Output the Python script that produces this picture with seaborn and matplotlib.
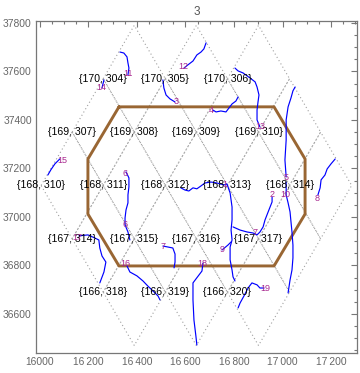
import pandas as pd
import matplotlib
matplotlib.use("Agg")
import matplotlib.pyplot as plt
import seaborn as sns
from matplotlib.ticker import FixedLocator, FixedFormatter, MultipleLocator

# cell labels {row, col}; text sits on the left corner of each rhombus cell
cell_rows = [170, 170, 170, 169, 169, 169, 169, 168, 168, 168, 168, 168,
             167, 167, 167, 167, 166, 166, 166]
cell_cols = [304, 305, 306, 307, 308, 309, 310, 310, 311, 312, 313, 314,
             314, 315, 316, 317, 318, 319, 320]
cell_x = [16261, 16517, 16773, 16133, 16389, 16645, 16901,
          16005, 16261, 16517, 16773, 17029,
          16133, 16389, 16645, 16901, 16261, 16517, 16773]
row_y = {170: 37570, 169: 37350, 168: 37130, 167: 36910, 166: 36690}
half_w, half_h = 128, 220

# brown outline
hex_x = [16326, 16965, 17093, 17093, 16965, 16326, 16198, 16198, 16326]
hex_y = [37454, 37454, 37239, 37012, 36798, 36798, 37012, 37239, 37454]

# blue tracks
trk14_x = [16264, 16256]
trk14_y = [37565, 37532]
trk11_x = [16330, 16346, 16359, 16363, 16367, 16363]
trk11_y = [37680, 37676, 37660, 37635, 37614, 37586]
trk3_x = [16507, 16511, 16520, 16536, 16557]
trk3_y = [37565, 37532, 37503, 37487, 37474]
trk12_x = [16685, 16676, 16664, 16647, 16631, 16610, 16594]
trk12_y = [37718, 37693, 37680, 37668, 37643, 37627, 37614]
trk13_x = [16804, 16817, 16837, 16866, 16887, 16895, 16903, 16899, 16895, 16895, 16907]
trk13_y = [37614, 37602, 37594, 37573, 37557, 37536, 37503, 37474, 37441, 37400, 37371]
trk5_x = [17052, 17043, 17035, 17023, 17015, 17015, 17010, 17015]
trk5_y = [37536, 37520, 37491, 37454, 37400, 37317, 37235, 37165]
trk10_x = [17015, 17015, 17023, 17031, 17035, 17039, 17043, 17043, 17039, 17031, 17023]
trk10_y = [37144, 37091, 37058, 37021, 36979, 36938, 36884, 36831, 36781, 36740, 36687]
trk4_x = [16817, 16808, 16792, 16779, 16767, 16746, 16726, 16713]
trk4_y = [37495, 37478, 37466, 37449, 37433, 37437, 37433, 37441]
trk15_x = [16033, 16045, 16062, 16082]
trk15_y = [37173, 37194, 37219, 37239]
trk6_x = [16355, 16367, 16367, 16363, 16363, 16355, 16351, 16351, 16363, 16371]
trk6_y = [37186, 37161, 37124, 37091, 37058, 37029, 36996, 36967, 36938, 36905]
trk8_x = [17217, 17200, 17184, 17175, 17159, 17155, 17146]
trk8_y = [37239, 37219, 37198, 37173, 37153, 37120, 37091]
trk2_x = [16957, 16957, 16944, 16928, 16920, 16907, 16895, 16878, 16854, 16825, 16796]
trk2_y = [37082, 37062, 37029, 36988, 36959, 36938, 36926, 36934, 36938, 36946, 36959]
trk1_x = [16581, 16598, 16614, 16631, 16647, 16664, 16680, 16705, 16730, 16759, 16771,
          16784, 16792, 16792, 16788, 16792, 16784, 16784, 16792, 16796, 16804]
trk1_y = [37120, 37111, 37107, 37120, 37116, 37128, 37140, 37144, 37140, 37132, 37136,
          37099, 37041, 36988, 36946, 36905, 36876, 36823, 36781, 36753, 36736]
trk9_x = [16751, 16775, 16788]
trk9_y = [36864, 36884, 36897]
trk7_x = [16507, 16528, 16548, 16557, 16557, 16553]
trk7_y = [36880, 36876, 36872, 36847, 36814, 36790]
trk16_x = [16359, 16371, 16400, 16425, 16445, 16466, 16487, 16495]
trk16_y = [36798, 36773, 36757, 36736, 36715, 36695, 36674, 36658]
trk17_x = [16161, 16198, 16227, 16243, 16247, 16256, 16272, 16264, 16247]
trk17_y = [36922, 36926, 36913, 36905, 36872, 36839, 36814, 36773, 36728]
trk18_x = [16672, 16668, 16643, 16631, 16631, 16635, 16643, 16647]
trk18_y = [36810, 36777, 36744, 36728, 36658, 36575, 36509, 36472]
trk19_x = [16817, 16825, 16841, 16858, 16874, 16895, 16907, 16924]
trk19_y = [36625, 36645, 36674, 36707, 36728, 36720, 36707, 36707]

# magenta numbers
num_text = ["14", "11", "3", "12", "4", "13", "15", "6", "6", "1", "2", "5", "10",
            "8", "17", "7", "7", "16", "18", "9", "19"]
num_x = [16252, 16363, 16561, 16590, 16705, 16907, 16091, 16351, 16351, 16763, 16957,
         17015, 17010, 17142, 16153, 16507, 16887, 16351, 16668, 16751, 16928]
num_y = [37532, 37590, 37474, 37619, 37437, 37371, 37231, 37181, 36967, 37132, 37091,
         37161, 37091, 37078, 36917, 36880, 36934, 36810, 36810, 36864, 36707]

x_ticks = [16000, 16200, 16400, 16600, 16800, 17000, 17200]
x_labels = ["16000", "16\u2009200", "16\u2009400", "16\u2009600", "16\u2009800",
            "17\u2009000", "17\u2009200"]
y_ticks = [36600, 36800, 37000, 37200, 37400, 37600, 37800]
y_labels = ["36600", "36800", "37000", "37200", "37400", "37600", "37800"]

sns.set_theme(style="white")
plt.rcParams['font.family'] = ['Liberation Sans', 'DejaVu Sans']

# build tables
grid_rows = []
for i, (r, x0) in enumerate(zip(cell_rows, cell_x)):
    y0 = row_y[r]
    for px, py in [(x0, y0), (x0 + half_w, y0 + half_h), (x0 + 2 * half_w, y0),
                   (x0 + half_w, y0 - half_h), (x0, y0)]:
        grid_rows.append({"cell": i, "x": px, "y": py})
grid_df = pd.DataFrame(grid_rows)

tracks = [(trk14_x, trk14_y), (trk11_x, trk11_y), (trk3_x, trk3_y), (trk12_x, trk12_y),
          (trk13_x, trk13_y), (trk5_x, trk5_y), (trk10_x, trk10_y), (trk4_x, trk4_y),
          (trk15_x, trk15_y), (trk6_x, trk6_y), (trk8_x, trk8_y), (trk2_x, trk2_y),
          (trk1_x, trk1_y), (trk9_x, trk9_y), (trk7_x, trk7_y), (trk16_x, trk16_y),
          (trk17_x, trk17_y), (trk18_x, trk18_y), (trk19_x, trk19_y)]
trk_df = pd.concat([pd.DataFrame({"track": i, "x": tx, "y": ty})
                    for i, (tx, ty) in enumerate(tracks)], ignore_index=True)
hex_df = pd.DataFrame({"x": hex_x, "y": hex_y})

fig = plt.figure(figsize=(3.6, 3.73), dpi=100)
ax = fig.add_axes([36 / 360, 20 / 373, 321 / 360, 332 / 373])

sns.lineplot(data=grid_df, x="x", y="y", units="cell", estimator=None, sort=False,
             color="#a0a0a0", lw=0.8, linestyle=(0, (1, 2.4)), ax=ax, legend=False)
sns.lineplot(data=hex_df, x="x", y="y", estimator=None, sort=False,
             color="#996633", lw=2.1, ax=ax, legend=False)
sns.lineplot(data=trk_df, x="x", y="y", units="track", estimator=None, sort=False,
             color="#0000ff", lw=0.85, ax=ax, legend=False)

for r, c, x0 in zip(cell_rows, cell_cols, cell_x):
    ax.text(x0, row_y[r], "{%d, %d}" % (r, c), fontsize=7.6, color="black",
            ha="center", va="center")
for t, x0, y0 in zip(num_text, num_x, num_y):
    ax.text(x0, y0, t, fontsize=6.5, color="#a8288f", ha="center", va="center")

ax.set_xlim(15984, 17307)
ax.set_ylim(36439, 37808)
ax.xaxis.set_major_locator(FixedLocator(x_ticks))
ax.xaxis.set_major_formatter(FixedFormatter(x_labels))
ax.yaxis.set_major_locator(FixedLocator(y_ticks))
ax.yaxis.set_major_formatter(FixedFormatter(y_labels))
ax.xaxis.set_minor_locator(MultipleLocator(50))
ax.yaxis.set_minor_locator(MultipleLocator(50))
ax.tick_params(which="both", direction="in", top=True, right=True,
               color="#777777", labelcolor="#666666", labelsize=7.4, width=0.8)
ax.tick_params(which="major", length=4.5, pad=3)
ax.tick_params(which="minor", length=2.5)
for s in ax.spines.values():
    s.set_color("#777777")
    s.set_linewidth(0.9)
ax.set_xlabel("")
ax.set_ylabel("")
ax.set_title("3", fontsize=8.5, color="#555555", pad=4)

fig.savefig("out.png", dpi=100)
